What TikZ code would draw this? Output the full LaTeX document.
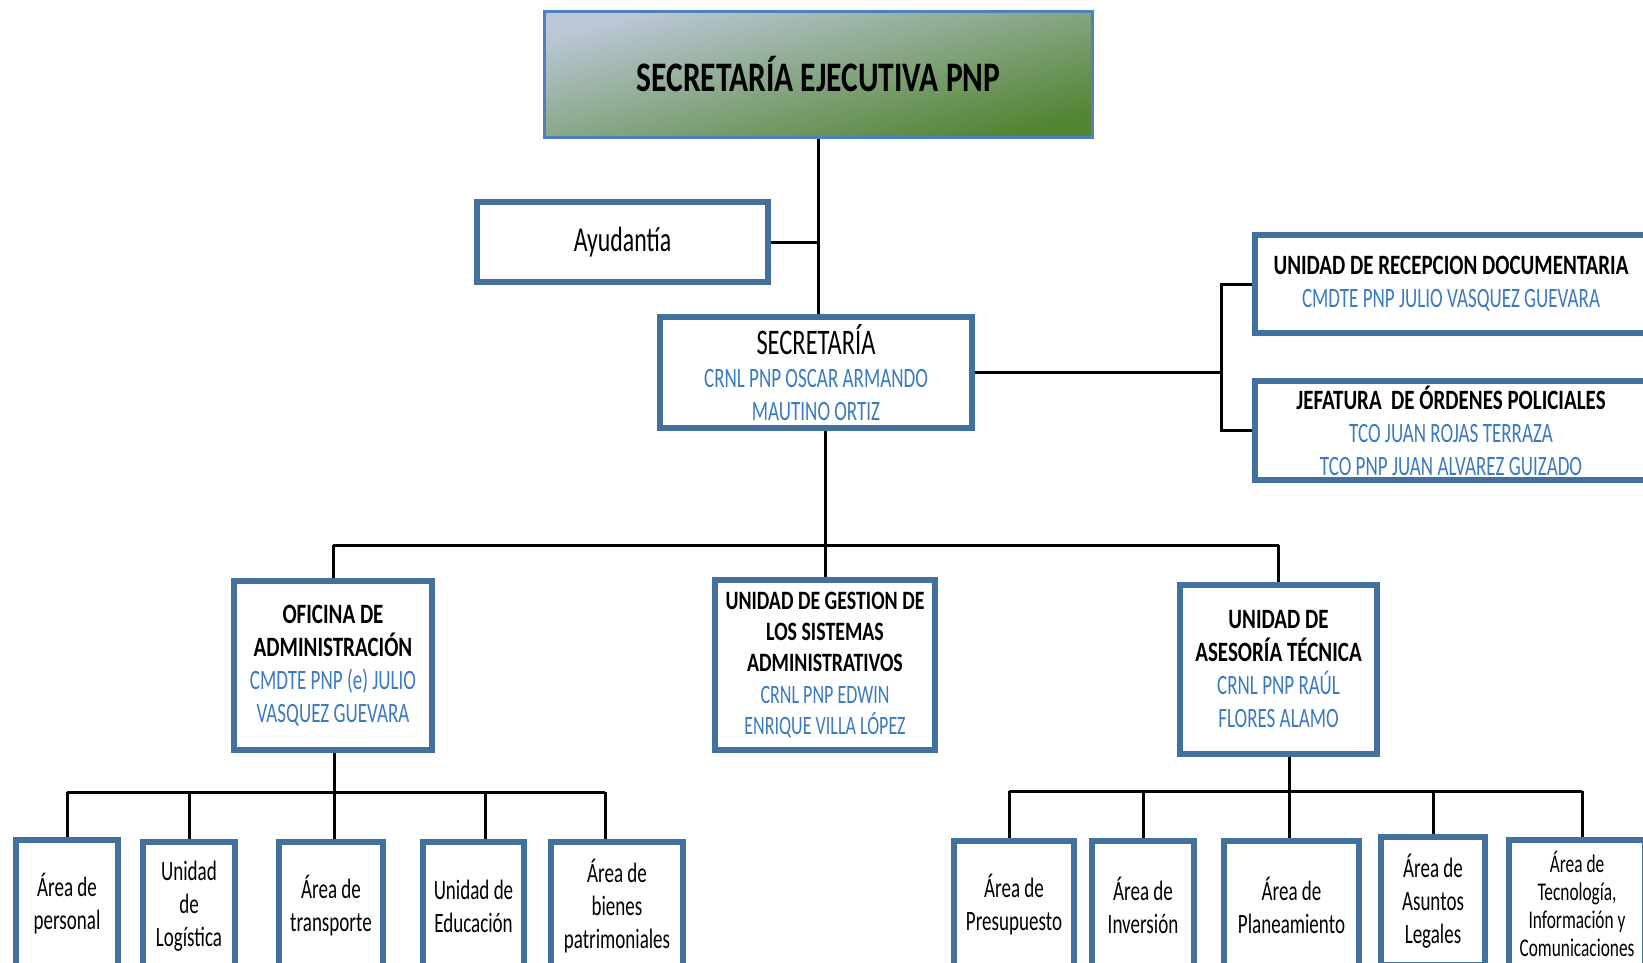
\documentclass[tikz,border=0pt]{standalone}
\usepackage{fontspec}
\setmainfont{Carlito}[FakeStretch=0.68]
\newfontfamily\headfont{Carlito}[FakeStretch=0.75]
\usetikzlibrary{calc}
\definecolor{boxblue}{RGB}{65,113,156}
\definecolor{titleblue}{RGB}{79,129,189}
\definecolor{nameblue}{RGB}{58,122,192}
\definecolor{topgray}{RGB}{188,200,216}
\definecolor{midgreen}{RGB}{155,178,158}
\definecolor{topgreen}{RGB}{82,132,50}
\def\hb#1{{\headfont\bfseries #1}}
\def\nm#1{{\color{nameblue}#1}}

\begin{document}
\begin{tikzpicture}[x=1pt, y=-1pt,
		box/.style={draw=boxblue, line width=6pt, fill=white, align=center, inner sep=0pt,
			font=\fontsize{28}{33}\selectfont},
		leaf/.style={box, minimum height=128pt},
		link/.style={line width=3pt}]
			%%%%% START %%%%%
			\clip (0, 0) rectangle (1643, 963);
			\fill[white] (0, 0) rectangle (1643, 963);
			
			% top level
			\node[draw=titleblue, line width=2.5pt, top color=topgray, middle color=midgreen, bottom color=topgreen, shading angle=14,
				minimum width=548pt, minimum height=126pt, inner sep=0pt,
				font=\fontsize{42}{50}\selectfont] (top) at (818.5, 74.5) {\hb{SECRETARÍA EJECUTIVA PNP}};
			\node[box, minimum width=291pt, minimum height=80pt, font=\fontsize{35}{40}\selectfont] (ayud) at (622.5, 242) {Ayudantía};
			\node[box, minimum width=312pt, minimum height=111pt] (secr) at (816, 372.5)
				{{\fontsize{36}{33}\selectfont SECRETARÍA}\\ \nm{CRNL PNP OSCAR ARMANDO}\\ \nm{MAUTINO ORTIZ}};
			
			% right side
			\node[box, minimum width=392pt, minimum height=98pt] (recep) at (1451, 284)
				{\hb{UNIDAD DE RECEPCION DOCUMENTARIA}\\ \nm{CMDTE PNP JULIO VASQUEZ GUEVARA}};
			\node[box, minimum width=392pt, minimum height=99pt] (jef) at (1451, 430.5)
				{\hb{JEFATURA\ \ DE ÓRDENES POLICIALES}\\ \nm{TCO JUAN ROJAS TERRAZA}\\ \nm{TCO PNP JUAN ALVAREZ GUIZADO}};
			
			% middle row
			\node[box, minimum width=198pt, minimum height=169pt] (ofic) at (333, 665.5)
				{\hb{OFICINA DE}\\ \hb{ADMINISTRACIÓN}\\ \nm{CMDTE PNP (e) JULIO}\\ \nm{VASQUEZ GUEVARA}};
			\node[box, minimum width=220pt, minimum height=170pt, font=\fontsize{26.5}{31.4}\selectfont] (gest) at (825, 665)
				{\hb{UNIDAD DE GESTION DE}\\ \hb{LOS SISTEMAS}\\ \hb{ADMINISTRATIVOS}\\ \nm{CRNL PNP EDWIN}\\ \nm{ENRIQUE VILLA LÓPEZ}};
			\node[box, minimum width=197pt, minimum height=169pt] (ases) at (1278.5, 669.5)
				{\hb{UNIDAD DE}\\ \hb{ASESORÍA TÉCNICA}\\ \nm{CRNL PNP RAÚL}\\ \nm{FLORES ALAMO}};
			
			% bottom left
			\node[leaf, minimum width=102pt] (c1) at (67, 904) {Área de\\ personal};
			\node[leaf, minimum width=92pt] (c2) at (189, 906) {Unidad\\ de\\ Logística};
			\node[leaf, minimum width=104pt] (c3) at (331, 906) {Área de\\ transporte};
			\node[leaf, minimum width=101pt] (c4) at (473.5, 906) {Unidad de\\ Educación};
			\node[leaf, minimum width=132pt] (c5) at (617, 906) {Área de\\ bienes\\ patrimoniales};
			
			% bottom right
			\node[leaf, minimum width=120pt] (d1) at (1014, 905) {Área de\\ Presupuesto};
			\node[leaf, minimum width=102pt] (d2) at (1143, 905) {Área de\\ Inversión};
			\node[leaf, minimum width=135pt] (d3) at (1291.5, 905) {Área de\\ Planeamiento};
			\node[leaf, minimum width=104pt] (d4) at (1433, 901) {Área de\\ Asuntos\\ Legales};
			\node[leaf, minimum width=136pt, font=\fontsize{25.5}{28}\selectfont] (d5) at (1577, 904)
				{Área de\\ Tecnología,\\ Información y\\ Comunicaciones};
			
			% connectors
			\coordinate (rj) at (1221, 372.5);
			\coordinate (busT) at (0, 545);
			\coordinate (busL) at (0, 792);
			\coordinate (busR) at (0, 791);
			
			\draw[link] (top.south) -- (top.south |- secr.north);
			\draw[link] (ayud.east) -- (ayud.east -| top.south);
			\draw[link] (secr.east) -- (rj);
			\draw[link] (recep.west) -| (rj) |- (jef.west);
			
			\draw[link] (gest.north |- secr.south) -- (gest.north);
			\draw[link] (ofic.north |- busT) -- (ases.north |- busT);
			\draw[link] (ofic.north |- busT) -- (ofic.north);
			\draw[link] (ases.north |- busT) -- (ases.north);
			
			\draw[link] ([xshift=3pt]c3.north |- ofic.south) -- ([xshift=3pt]c3.north);
			\draw[link] (c1.north |- busL) -- ([xshift=-12pt]c5.north |- busL);
			\draw[link] (c1.north |- busL) -- (c1.north);
			\draw[link] (c2.north |- busL) -- (c2.north);
			\draw[link] ([xshift=12pt]c4.north |- busL) -- ([xshift=12pt]c4.north);
			\draw[link] ([xshift=-12pt]c5.north |- busL) -- ([xshift=-12pt]c5.north);
			
			\draw[link] ([xshift=-2pt]d3.north |- ases.south) -- ([xshift=-2pt]d3.north);
			\draw[link] ([xshift=-5pt]d1.north |- busR) -- ([xshift=5pt]d5.north |- busR);
			\draw[link] ([xshift=-5pt]d1.north |- busR) -- ([xshift=-5pt]d1.north);
			\draw[link] (d2.north |- busR) -- (d2.north);
			\draw[link] (d4.north |- busR) -- (d4.north);
			\draw[link] ([xshift=5pt]d5.north |- busR) -- ([xshift=5pt]d5.north);
			%%%%% END %%%%%
\end{tikzpicture}
\end{document}
